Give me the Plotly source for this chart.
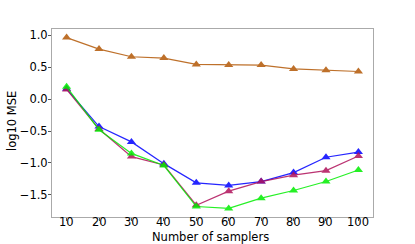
import plotly.graph_objects as go

samplers = [10, 20, 30, 40, 50, 60, 70, 80, 90, 100]
orange_vals = [0.96, 0.78, 0.66, 0.64, 0.54, 0.53, 0.53, 0.47, 0.45, 0.43]
blue_vals = [0.16, -0.43, -0.67, -1.01, -1.31, -1.35, -1.29, -1.15, -0.91, -0.83]
purple_vals = [0.15, -0.47, -0.90, -1.03, -1.66, -1.44, -1.29, -1.19, -1.12, -0.89]
green_vals = [0.19, -0.48, -0.85, -1.04, -1.68, -1.71, -1.55, -1.43, -1.29, -1.11]
x_tick_labels = [str(v) for v in samplers]
y_ticks = [1.0, 0.5, 0.0, -0.5, -1.0, -1.5]
y_tick_labels = ["1.0", "0.5", "0.0", "\u22120.5", "\u22121.0", "\u22121.5"]

series = [
    (orange_vals, "#b35806"),
    (blue_vals, "#0000ff"),
    (purple_vals, "#b0105a"),
    (green_vals, "#00ee00"),
]

fig = go.Figure()
for vals, color in series:
    fig.add_trace(go.Scatter(
        x=samplers, y=vals, mode="lines+markers",
        line=dict(color=color, width=1.2),
        marker=dict(symbol="triangle-up", size=8, color=color),
        opacity=0.85, showlegend=False,
    ))

axis_common = dict(
    showgrid=False, zeroline=False, showline=True, linecolor="#aaaaaa",
    linewidth=1, mirror=True, ticks="outside", ticklen=3, tickcolor="#555555",
    tickfont=dict(family="DejaVu Sans", size=11.5, color="black"),
    automargin=False,
)

W, H = 415, 244
L, R, T, B = 52, 42, 29, 27
pw, ph = W - L - R, H - T - B

annotations = [
    dict(text=lab, x=v, xref="x", y=0, yref="paper", showarrow=False,
         xanchor="center", yanchor="top", yshift=3, borderpad=0,
         font=dict(size=11.5))
    for v, lab in zip(samplers, x_tick_labels)
]
annotations += [
    dict(text="Number of samplers", xref="paper", yref="paper",
         x=(210.5 - L) / pw, y=-(237 - (H - B)) / ph, borderpad=0,
         showarrow=False, xanchor="center", yanchor="middle",
         font=dict(size=11.5)),
    dict(text="log10 MSE", xref="paper", yref="paper",
         x=-(L - 12) / pw, y=((H - B) - 121) / ph,
         showarrow=False, xanchor="center", yanchor="middle", textangle=-90,
         font=dict(size=11.5)),
]

fig.update_layout(
    width=W, height=H,
    margin=dict(l=L, r=R, t=T, b=B),
    plot_bgcolor="white", paper_bgcolor="white",
    font=dict(family="DejaVu Sans", size=11.5, color="black"),
    xaxis=dict(range=[5.5, 104.5], tickvals=samplers, showticklabels=False,
               **axis_common),
    yaxis=dict(range=[-1.844, 1.094], tickvals=y_ticks, ticktext=y_tick_labels,
               ticklabelstandoff=-2, **axis_common),
    annotations=annotations,
)

fig.write_html("out.html", config={"displayModeBar": False},
               post_script="document.body.style.margin='0px';")
